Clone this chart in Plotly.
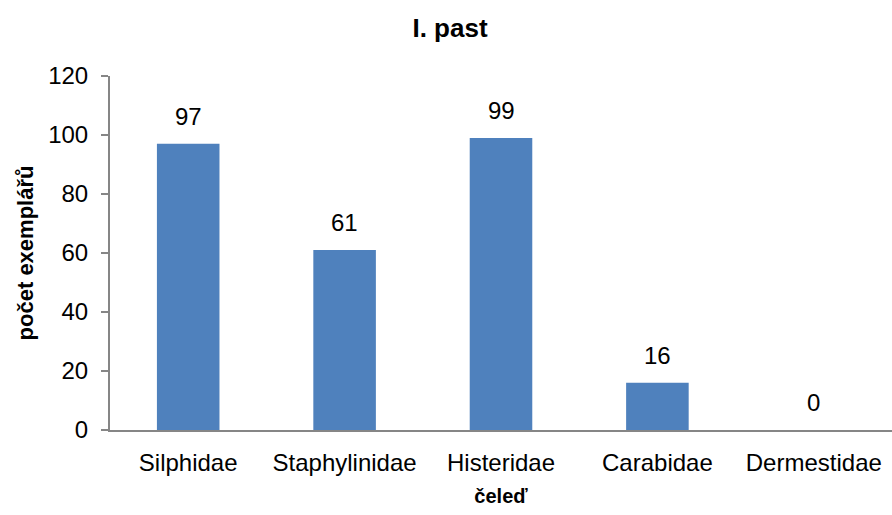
import plotly.graph_objects as go

categories = ["Silphidae", "Staphylinidae", "Histeridae", "Carabidae", "Dermestidae"]
values = [97, 61, 99, 16, 0]
y_ticks = [0, 20, 40, 60, 80, 100, 120]

font_family = "Liberation Sans, Arial, sans-serif"
axis_color = "#868686"

fig = go.Figure(go.Bar(
    x=categories, y=values, marker_color="#4F81BD",
    marker_line_width=0, width=0.4,
))

for c, v in zip(categories, values):
    fig.add_annotation(x=c, y=v, text=str(v), showarrow=False,
                       yanchor="bottom", yshift=12,
                       font=dict(family=font_family, size=24, color="#000"))

fig.update_layout(
    width=892, height=515,
    margin=dict(l=110, r=0, t=76, b=85),
    paper_bgcolor="white", plot_bgcolor="white",
    showlegend=False,
    title=dict(text="<b>I. past</b>", x=450 / 892, xanchor="center", y=1 - 28 / 515, yanchor="middle",
               xref="container", yref="container",
               font=dict(family=font_family, size=26, color="#000")),
    xaxis=dict(
        showline=True, linecolor=axis_color, linewidth=2,
        ticks="", showgrid=False, ticklabelstandoff=10,
        tickfont=dict(family=font_family, size=24, color="#000"),
        title=dict(text="<b>čeleď</b>", font=dict(family=font_family, size=20, color="#000"), standoff=14),
    ),
    yaxis=dict(
        range=[0, 120], tickvals=y_ticks, showline=True, linecolor=axis_color, linewidth=2,
        ticks="outside", ticklen=7, tickcolor=axis_color, tickwidth=2,
        showgrid=False, zeroline=False, ticklabelstandoff=8,
        tickfont=dict(family=font_family, size=24, color="#000"),
        title=dict(text="<b>počet exemplářů</b>", font=dict(family=font_family, size=22, color="#000"), standoff=8),
    ),
)

fig.write_html("out.html", config={"displayModeBar": False},
               post_script="document.body.style.margin='0';")
